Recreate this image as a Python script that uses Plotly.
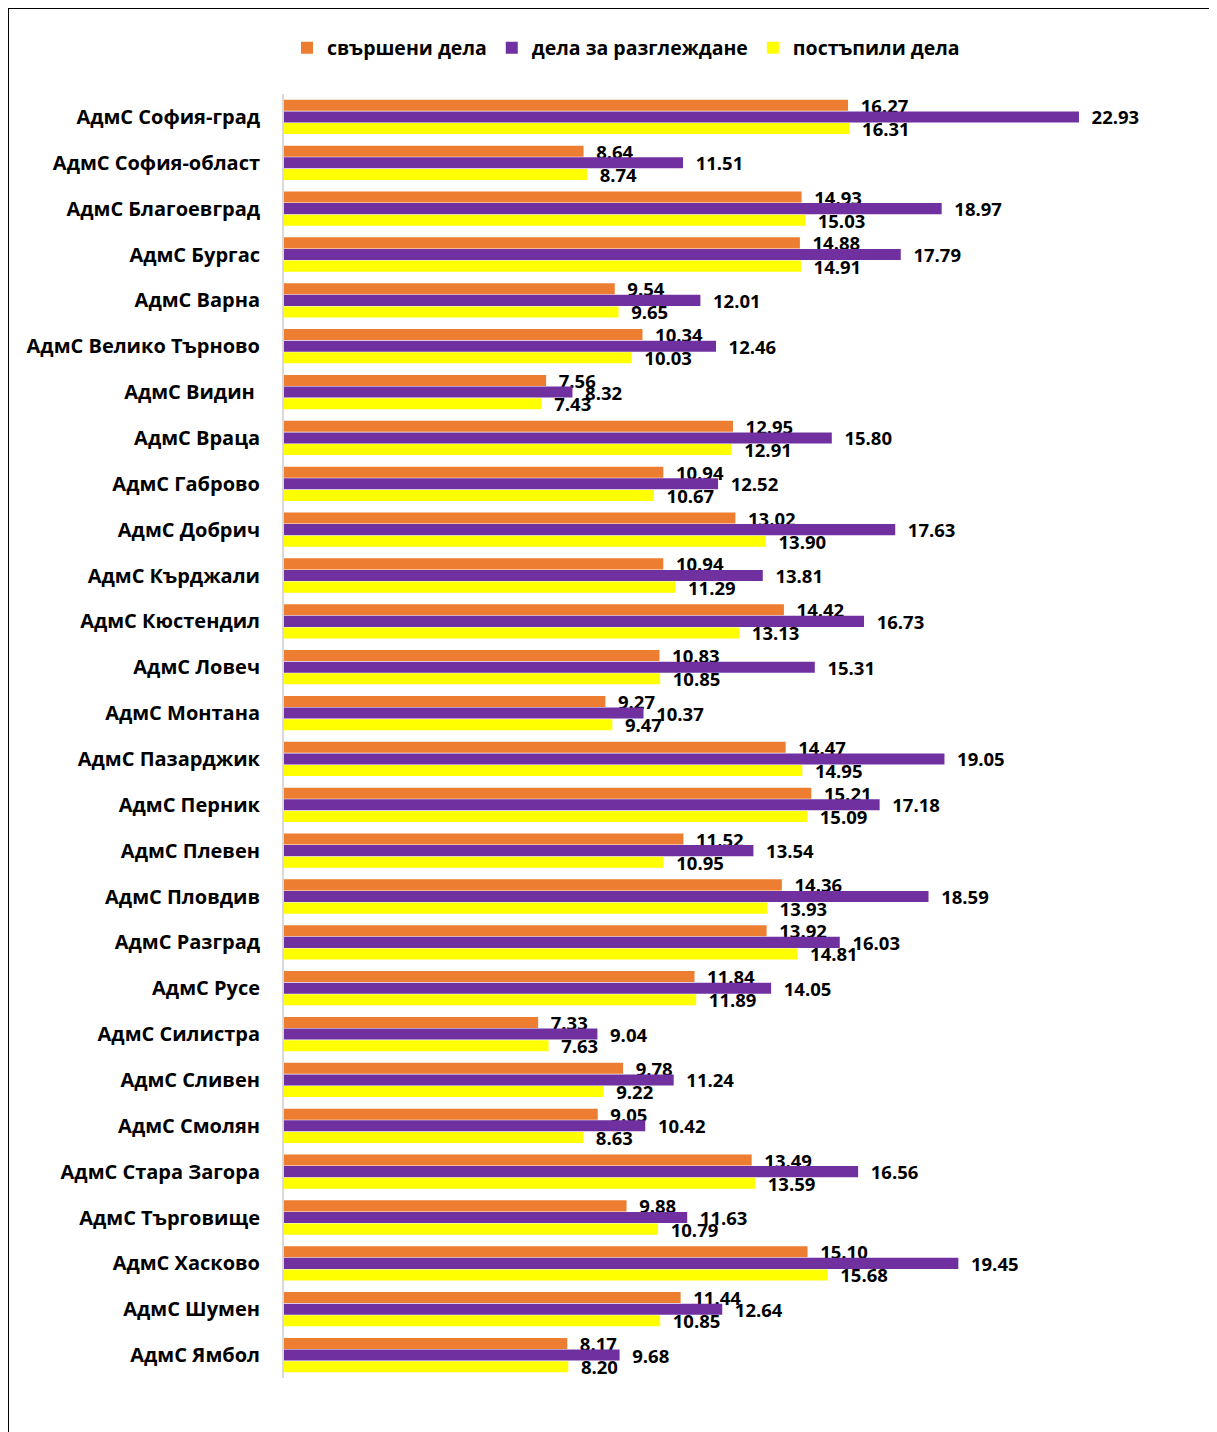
import plotly.graph_objects as go

categories = ["АдмС София-град", "АдмС София-област", "АдмС Благоевград", "АдмС Бургас",
              "АдмС Варна", "АдмС Велико Търново", "АдмС Видин ", "АдмС Враца",
              "АдмС Габрово", "АдмС Добрич", "АдмС Кърджали", "АдмС Кюстендил",
              "АдмС Ловеч", "АдмС Монтана", "АдмС Пазарджик", "АдмС Перник",
              "АдмС Плевен", "АдмС Пловдив", "АдмС Разград", "АдмС Русе",
              "АдмС Силистра", "АдмС Сливен", "АдмС Смолян", "АдмС Стара Загора",
              "АдмС Търговище", "АдмС Хасково", "АдмС Шумен", "АдмС Ямбол"]

completed = [16.27, 8.64, 14.93, 14.88, 9.54, 10.34, 7.56, 12.95, 10.94, 13.02, 10.94, 14.42,
             10.83, 9.27, 14.47, 15.21, 11.52, 14.36, 13.92, 11.84, 7.33, 9.78, 9.05, 13.49,
             9.88, 15.10, 11.44, 8.17]
pending = [22.93, 11.51, 18.97, 17.79, 12.01, 12.46, 8.32, 15.80, 12.52, 17.63, 13.81, 16.73,
           15.31, 10.37, 19.05, 17.18, 13.54, 18.59, 16.03, 14.05, 9.04, 11.24, 10.42, 16.56,
           11.63, 19.45, 12.64, 9.68]
received = [16.31, 8.74, 15.03, 14.91, 9.65, 10.03, 7.43, 12.91, 10.67, 13.90, 11.29, 13.13,
            10.85, 9.47, 14.95, 15.09, 10.95, 13.93, 14.81, 11.89, 7.63, 9.22, 8.63, 13.59,
            10.79, 15.68, 10.85, 8.20]

series_names = ["свършени дела", "дела за разглеждане", "постъпили дела"]
colors = ["#ED7D31", "#7030A0", "#FFFF00"]

FONT = "Open Sans"
OFF = 8  # page body margin

fig = go.Figure()
for name, vals, col in zip(series_names, [completed, pending, received], colors):
    fig.add_trace(go.Bar(
        y=categories, x=vals, name=name, orientation="h",
        marker=dict(color=col, line=dict(width=0)),
        text=vals, texttemplate="  %{x:.2f}", textposition="outside",
        textfont=dict(family=FONT, size=18.5, color="black", weight="bold"),
        cliponaxis=False, constraintext="none",
    ))

# target page pixel positions of the plot area
L, R, T, B = 284 - OFF, 1180 - OFF, 94 - OFF, 1378 - OFF
W, H = 1217, 1432
def px(x):
    return (x - OFF - L) / (R - L)
def py(y):
    return (B - (y - OFF)) / (B - T)

fig.update_layout(
    width=W, height=H,
    margin=dict(l=L, r=W - R, t=T, b=H - B),
    barmode="group", bargap=0.24, bargroupgap=0.05,
    plot_bgcolor="white", paper_bgcolor="white",
    font=dict(family=FONT, color="black"),
    showlegend=True,
    legend=dict(orientation="h", x=px(626), xanchor="center",
                y=py(48), yanchor="middle",
                font=dict(family=FONT, size=19.5, color="black", weight="bold"),
                itemwidth=30, traceorder="normal"),
    xaxis=dict(range=[0, (R - L) / 34.67], showgrid=False, showticklabels=False,
               zeroline=False, showline=False, ticks=""),
    yaxis=dict(autorange="reversed", showgrid=False, showline=True, linecolor="#D9D9D9",
               linewidth=2, ticks="", ticklabelstandoff=18,
               tickfont=dict(family=FONT, size=20, color="black", weight="bold")),
    shapes=[dict(type="rect", xref="paper", yref="paper",
                 x0=px(8), x1=px(1240), y0=py(1450), y1=py(8),
                 line=dict(color="black", width=2), fillcolor="rgba(0,0,0,0)", layer="below")],
)

fig.write_html("out.html")
